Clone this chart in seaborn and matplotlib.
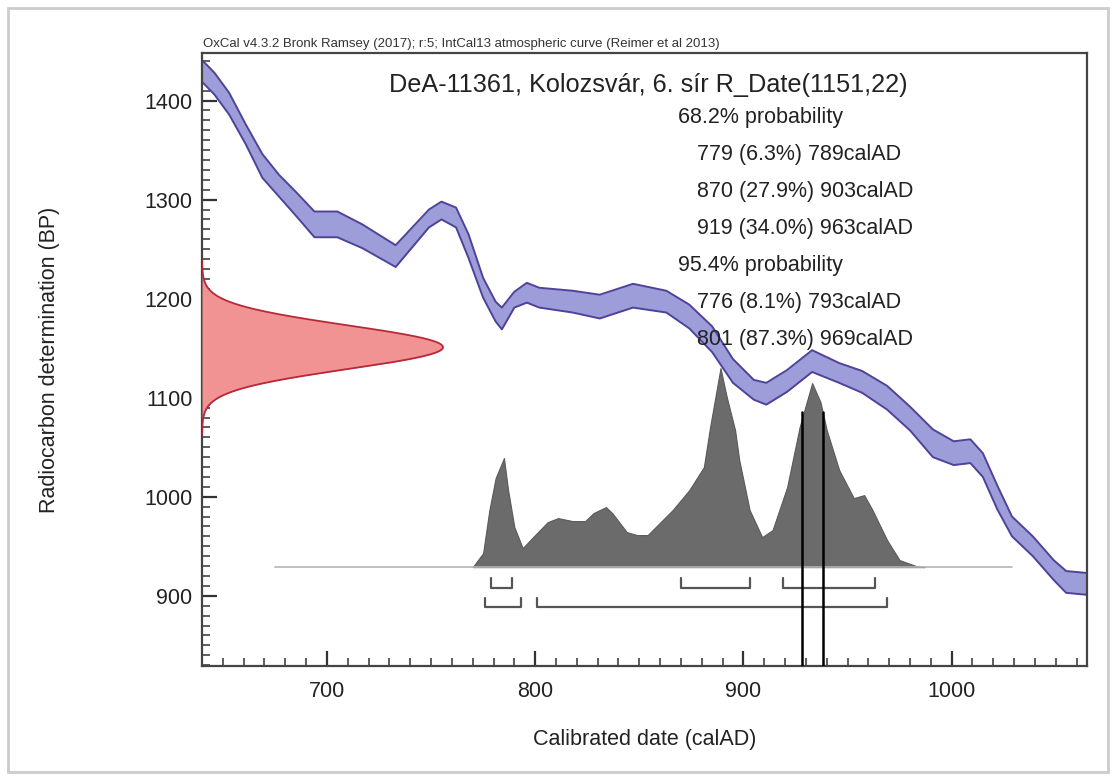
import numpy as np
import seaborn as sns
import matplotlib.pyplot as plt
from matplotlib.patches import Rectangle
from matplotlib.ticker import MultipleLocator

# IntCal13 curve (calAD, BP, 1 sigma)
curve_year = [640, 646, 653, 661, 669, 677, 685, 694, 705, 717, 733, 741, 749, 755, 762,
              768, 775, 781, 784, 790, 796, 802, 818, 831, 847, 863, 874, 885, 895, 905,
              911, 921, 933, 946, 957, 969, 980, 991, 1001, 1009, 1015, 1022, 1029, 1039,
              1049, 1055, 1065]
curve_bp = [1430, 1417, 1397, 1366, 1334, 1314, 1296, 1275, 1275, 1263, 1243, 1262, 1281, 1289, 1282,
            1253, 1211, 1187, 1180, 1199, 1206, 1201, 1197, 1192, 1203, 1197, 1182, 1159, 1127, 1108,
            1104, 1117, 1137, 1125, 1116, 1100, 1079, 1054, 1044, 1046, 1032, 999, 970, 950,
            926, 914, 912]
curve_err = [11, 11, 11, 10, 12, 11, 12, 13, 13, 12, 11, 10, 9, 9, 10,
             12, 10, 10, 11, 8, 10, 10, 11, 12, 12, 11, 12, 13, 12, 10,
             11, 11, 11, 10, 11, 12, 12, 14, 12, 12, 12, 12, 10, 10,
             10, 11, 11]

# calibrated probability distribution (relative)
hist_year = [770, 775, 778, 781, 785, 787, 790, 794, 799, 806, 811, 818, 824, 828, 834,
             837, 844, 849, 854, 866, 874, 881, 884, 889, 892, 896, 898, 903, 909, 914,
             921, 927, 933, 937, 940, 946, 953, 958, 962, 969, 975, 983, 987]
hist_prob = [0, 14, 57, 89, 109, 77, 40, 19, 30, 45, 49, 46, 46, 54, 60,
             54, 35, 32, 32, 57, 77, 100, 140, 199, 170, 137, 107, 57, 30, 37,
             80, 140, 184, 165, 137, 97, 69, 72, 57, 27, 7, 1, 0]
hist_start, hist_end = 675, 1029

# radiocarbon date
r_mean, r_sd = 1151, 22
lab_code = 'DeA-11361, Kolozsvár, 6. sír'

# ranges
r68_from = [779, 870, 919]
r68_to = [789, 903, 963]
r68_pct = [6.3, 27.9, 34.0]
r95_from = [776, 801]
r95_to = [793, 969]
r95_pct = [8.1, 87.3]

marker_years = [928, 938]
marker_top_bp = 1086

xlim = (640, 1065)
ylim = (829, 1448)

sns.set_style('white')
plt.rcParams['font.family'] = ['Liberation Sans', 'DejaVu Sans']
txt = '#222222'

fig = plt.figure(figsize=(11.16, 7.8), dpi=100)
ax = fig.add_axes([0.181, 0.146, 0.793, 0.786])

# calibration curve band
upper = np.array(curve_bp) + np.array(curve_err)
lower = np.array(curve_bp) - np.array(curve_err)
ax.fill_between(curve_year, lower, upper, color='#9d9dda', lw=0)
sns.lineplot(x=curve_year, y=upper, ax=ax, color='#4e4398', lw=1.4)
sns.lineplot(x=curve_year, y=lower, ax=ax, color='#4e4398', lw=1.4)

ax.set_xlim(*xlim)
ax.set_ylim(*ylim)
ax.set_xticks([700, 800, 900, 1000])
ax.set_yticks([900, 1000, 1100, 1200, 1300, 1400])
ax.xaxis.set_minor_locator(MultipleLocator(10))
ax.yaxis.set_minor_locator(MultipleLocator(10))
ax.tick_params(which='both', direction='in', left=True, bottom=True, colors='#333333',
               labelcolor=txt, labelsize=15.5)
ax.tick_params(which='major', length=11, width=1.6)
ax.tick_params(which='minor', length=5.5, width=1.1)
ax.tick_params(axis='x', which='major', pad=11)
ax.tick_params(axis='y', which='major', pad=7)
for s in ax.spines.values():
    s.set_color('#444444')
    s.set_linewidth(1.6)

ax.set_xlabel('Calibrated date (calAD)', fontsize=15.5, color=txt)
ax.set_ylabel('Radiocarbon determination (BP)', fontsize=15.5, color=txt)
ax.xaxis.set_label_coords(0.5, -0.103)
ax.yaxis.set_label_coords(-0.16, 0.5)

# probability distribution on its own scale
ax2 = ax.twinx()
ax2.set_axis_off()
ax2.set_ylim(-99, 514)
sns.lineplot(x=[hist_start, hist_end], y=[0, 0], ax=ax2, color='#b4b4b4', lw=1.2)
ax2.fill_between(hist_year, 0, hist_prob, color='#6b6b6b', lw=0.8, edgecolor='#5a5a5a')

for a, b in zip(r68_from, r68_to):
    ax2.plot([a, a, b, b], [-11, -21, -21, -11], color='#555555', lw=1.6)
for a, b in zip(r95_from, r95_to):
    ax2.plot([a, a, b, b], [-31, -40, -40, -31], color='#555555', lw=1.6)

top_frac = (marker_top_bp - ylim[0]) / (ylim[1] - ylim[0])
for yr in marker_years:
    ax2.axvline(yr, ymin=0, ymax=top_frac, color='black', lw=1.8)

# radiocarbon date on the BP axis
ax3 = ax.twiny()
ax3.set_axis_off()
red_bp = np.linspace(r_mean - 4 * r_sd, r_mean + 4 * r_sd, 200)
red_x = np.exp(-0.5 * ((red_bp - r_mean) / r_sd) ** 2)
ax3.fill_betweenx(red_bp, 0, red_x, color='#f29393', lw=0)
sns.lineplot(x=red_x, y=red_bp, sort=False, estimator=None, ax=ax3, color='#b8283a', lw=1.3)
ax3.set_xlim(0, 3.672)
ax3.set_ylim(*ylim)

# texts
ax.text(0.001, 1.005, 'OxCal v4.3.2 Bronk Ramsey (2017); r:5; IntCal13 atmospheric curve (Reimer et al 2013)',
        transform=ax.transAxes, fontsize=9.5, color='#333333', va='bottom', ha='left')
ax.text(0.797, 0.936, f'{lab_code} R_Date({r_mean},{r_sd})', transform=ax.transAxes,
        fontsize=18.2, color=txt, ha='right', va='baseline')

lines = [('68.2% probability', 0.538)]
lines += [(f'{a} ({p}%) {b}calAD', 0.559) for a, b, p in zip(r68_from, r68_to, r68_pct)]
lines += [('95.4% probability', 0.538)]
lines += [(f'{a} ({p}%) {b}calAD', 0.559) for a, b, p in zip(r95_from, r95_to, r95_pct)]
for i, (s, xf) in enumerate(lines):
    yb = 1 - (123 - 53 + 37 * i) / 613
    ax.text(xf, yb, s, transform=ax.transAxes, fontsize=15.5, color=txt,
            ha='left', va='baseline')

fig.patches.append(Rectangle((8 / 1116, 8 / 780), 1100 / 1116, 764 / 780, transform=fig.transFigure,
                             fill=False, edgecolor='#cccccc', lw=2))

fig.savefig('out.png', dpi=100)
